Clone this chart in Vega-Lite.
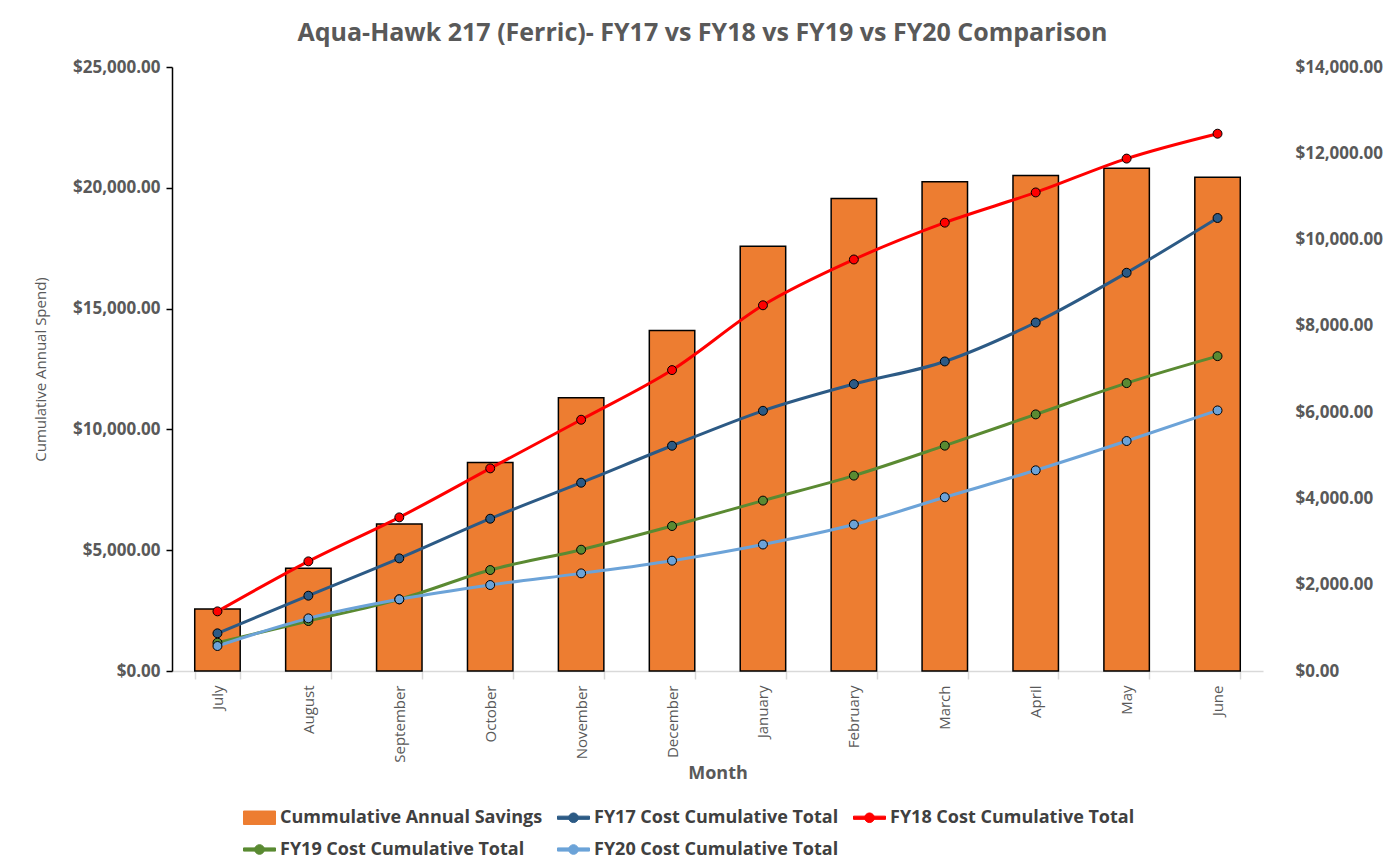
{
  "$schema": "https://vega.github.io/schema/vega-lite/v6.json",
  "width": 1091,
  "height": 604,
  "autosize": {"type": "none"},
  "padding": {"left": 172, "top": 67, "right": 131, "bottom": 195},
  "background": "white",
  "title": {
    "text": "Aqua-Hawk 217 (Ferric)- FY17 vs FY18 vs FY19 vs FY20 Comparison",
    "font": "Open Sans",
    "fontSize": 25,
    "fontWeight": "bold",
    "color": "#595959",
    "offset": 12,
    "dx": -15
  },
  "config": {
    "view": {"stroke": null},
    "axis": {"grid": false}
  },
  "data": {
    "values": [
      {"month": "July", "series": "Cummulative Annual Savings", "value": 1437},
      {"month": "August", "series": "Cummulative Annual Savings", "value": 2379},
      {"month": "September", "series": "Cummulative Annual Savings", "value": 3407},
      {"month": "October", "series": "Cummulative Annual Savings", "value": 4835},
      {"month": "November", "series": "Cummulative Annual Savings", "value": 6334},
      {"month": "December", "series": "Cummulative Annual Savings", "value": 7894},
      {"month": "January", "series": "Cummulative Annual Savings", "value": 9846},
      {"month": "February", "series": "Cummulative Annual Savings", "value": 10954},
      {"month": "March", "series": "Cummulative Annual Savings", "value": 11338},
      {"month": "April", "series": "Cummulative Annual Savings", "value": 11485},
      {"month": "May", "series": "Cummulative Annual Savings", "value": 11654},
      {"month": "June", "series": "Cummulative Annual Savings", "value": 11446},

      {"month": "July", "series": "FY17 Cost Cumulative Total", "value": 1559},
      {"month": "August", "series": "FY17 Cost Cumulative Total", "value": 3117},
      {"month": "September", "series": "FY17 Cost Cumulative Total", "value": 4662},
      {"month": "October", "series": "FY17 Cost Cumulative Total", "value": 6303},
      {"month": "November", "series": "FY17 Cost Cumulative Total", "value": 7793},
      {"month": "December", "series": "FY17 Cost Cumulative Total", "value": 9324},
      {"month": "January", "series": "FY17 Cost Cumulative Total", "value": 10770},
      {"month": "February", "series": "FY17 Cost Cumulative Total", "value": 11875},
      {"month": "March", "series": "FY17 Cost Cumulative Total", "value": 12812},
      {"month": "April", "series": "FY17 Cost Cumulative Total", "value": 14424},
      {"month": "May", "series": "FY17 Cost Cumulative Total", "value": 16484},
      {"month": "June", "series": "FY17 Cost Cumulative Total", "value": 18750},

      {"month": "July", "series": "FY18 Cost Cumulative Total", "value": 2469},
      {"month": "August", "series": "FY18 Cost Cumulative Total", "value": 4538},
      {"month": "September", "series": "FY18 Cost Cumulative Total", "value": 6359},
      {"month": "October", "series": "FY18 Cost Cumulative Total", "value": 8386},
      {"month": "November", "series": "FY18 Cost Cumulative Total", "value": 10400},
      {"month": "December", "series": "FY18 Cost Cumulative Total", "value": 12455},
      {"month": "January", "series": "FY18 Cost Cumulative Total", "value": 15137},
      {"month": "February", "series": "FY18 Cost Cumulative Total", "value": 17033},
      {"month": "March", "series": "FY18 Cost Cumulative Total", "value": 18557},
      {"month": "April", "series": "FY18 Cost Cumulative Total", "value": 19808},
      {"month": "May", "series": "FY18 Cost Cumulative Total", "value": 21209},
      {"month": "June", "series": "FY18 Cost Cumulative Total", "value": 22239},

      {"month": "July", "series": "FY19 Cost Cumulative Total", "value": 1172},
      {"month": "August", "series": "FY19 Cost Cumulative Total", "value": 2069},
      {"month": "September", "series": "FY19 Cost Cumulative Total", "value": 2966},
      {"month": "October", "series": "FY19 Cost Cumulative Total", "value": 4179},
      {"month": "November", "series": "FY19 Cost Cumulative Total", "value": 5021},
      {"month": "December", "series": "FY19 Cost Cumulative Total", "value": 6000},
      {"month": "January", "series": "FY19 Cost Cumulative Total", "value": 7053},
      {"month": "February", "series": "FY19 Cost Cumulative Total", "value": 8087},
      {"month": "March", "series": "FY19 Cost Cumulative Total", "value": 9327},
      {"month": "April", "series": "FY19 Cost Cumulative Total", "value": 10621},
      {"month": "May", "series": "FY19 Cost Cumulative Total", "value": 11916},
      {"month": "June", "series": "FY19 Cost Cumulative Total", "value": 13032},

      {"month": "July", "series": "FY20 Cost Cumulative Total", "value": 1034},
      {"month": "August", "series": "FY20 Cost Cumulative Total", "value": 2179},
      {"month": "September", "series": "FY20 Cost Cumulative Total", "value": 2966},
      {"month": "October", "series": "FY20 Cost Cumulative Total", "value": 3559},
      {"month": "November", "series": "FY20 Cost Cumulative Total", "value": 4041},
      {"month": "December", "series": "FY20 Cost Cumulative Total", "value": 4566},
      {"month": "January", "series": "FY20 Cost Cumulative Total", "value": 5235},
      {"month": "February", "series": "FY20 Cost Cumulative Total", "value": 6061},
      {"month": "March", "series": "FY20 Cost Cumulative Total", "value": 7191},
      {"month": "April", "series": "FY20 Cost Cumulative Total", "value": 8307},
      {"month": "May", "series": "FY20 Cost Cumulative Total", "value": 9519},
      {"month": "June", "series": "FY20 Cost Cumulative Total", "value": 10786}
    ]
  },
  "encoding": {
    "x": {
      "field": "month",
      "type": "nominal",
      "sort": ["July", "August", "September", "October", "November", "December", "January", "February", "March", "April", "May", "June"],
      "scale": {"paddingInner": 0.5, "paddingOuter": 0.25},
      "axis": {
        "title": "Month",
        "titleFont": "Open Sans",
        "titleFontSize": 18,
        "titleFontWeight": "bold",
        "titleColor": "#595959",
        "titlePadding": 2,
        "labelAngle": -90,
        "labelFont": "Open Sans",
        "labelFontSize": 15,
        "labelColor": "#595959",
        "labelPadding": 6,
        "domainColor": "#D9D9D9",
        "domainWidth": 1.5,
        "tickColor": "#D9D9D9",
        "tickWidth": 1.5,
        "tickSize": 8,
        "tickBand": "extent"
      }
    },
    "color": {
      "field": "series",
      "type": "nominal",
      "scale": {
        "domain": ["Cummulative Annual Savings", "FY17 Cost Cumulative Total", "FY18 Cost Cumulative Total", "FY19 Cost Cumulative Total", "FY20 Cost Cumulative Total"],
        "range": ["#ED7D31", "#2C5A85", "#FF0000", "#5A8A32", "#6CA3D8"]
      },
      "legend": {
        "title": null,
        "orient": "none",
        "legendX": 71,
        "legendY": 734,
        "direction": "horizontal",
        "columns": 3,
        "symbolSize": 1024,
        "symbolStrokeWidth": 1,
        "labelFont": "Open Sans",
        "labelFontSize": 18,
        "labelFontWeight": "bold",
        "labelColor": "#404040",
        "labelLimit": 400,
        "labelOffset": 4,
        "columnPadding": 12,
        "rowPadding": 6,
        "padding": 0,
        "encode": {
          "symbols": {
            "update": {
              "shape": {"signal": "datum.value === 'Cummulative Annual Savings' ? 'M-1,-0.42H1V0.42H-1Z' : 'M-1,-0.1H1V0.1H-1Z M0.3,0A0.3,0.3 0 1,1 -0.3,0A0.3,0.3 0 1,1 0.3,0Z'"},
              "stroke": {"signal": "datum.value === 'Cummulative Annual Savings' ? '#7f4010' : scale('color', datum.value)"},
              "fill": {"signal": "scale('color', datum.value)"},
              "opacity": {"value": 1}
            }
          }
        }
      }
    }
  },
  "layer": [
    {
      "transform": [{"filter": "datum.series === 'Cummulative Annual Savings'"}],
      "mark": {"type": "bar", "stroke": "#000000", "strokeWidth": 1.5},
      "encoding": {
        "y": {
          "field": "value",
          "type": "quantitative",
          "scale": {"domain": [0, 14000], "nice": false},
          "axis": {
            "orient": "right",
            "title": null,
            "values": [0, 2000, 4000, 6000, 8000, 10000, 12000, 14000],
            "format": "$,.2f",
            "labelFont": "Open Sans",
            "labelFontSize": 17,
            "labelFontWeight": "bold",
            "labelColor": "#595959",
            "labelPadding": 32,
            "domain": false,
            "ticks": false
          }
        }
      }
    },
    {
      "transform": [{"filter": "datum.series !== 'Cummulative Annual Savings'"}],
      "mark": {
        "type": "line",
        "interpolate": "monotone",
        "strokeWidth": 3,
        "point": {"filled": true, "size": 80, "stroke": "#000000", "strokeWidth": 1}
      },
      "encoding": {
        "y": {
          "field": "value",
          "type": "quantitative",
          "scale": {"domain": [0, 25000], "nice": false},
          "axis": {
            "orient": "left",
            "title": "Cumulative Annual Spend)",
            "titleFont": "Open Sans",
            "titleFontSize": 15,
            "titleFontWeight": "normal",
            "titleColor": "#595959",
            "titlePadding": 24,
            "values": [0, 5000, 10000, 15000, 20000, 25000],
            "format": "$,.2f",
            "labelFont": "Open Sans",
            "labelFontSize": 17,
            "labelFontWeight": "bold",
            "labelColor": "#595959",
            "labelPadding": 6,
            "domainColor": "#000000",
            "domainWidth": 1.5,
            "tickColor": "#000000",
            "tickWidth": 1.5,
            "tickSize": 6
          }
        }
      }
    }
  ],
  "resolve": {"scale": {"y": "independent"}}
}
